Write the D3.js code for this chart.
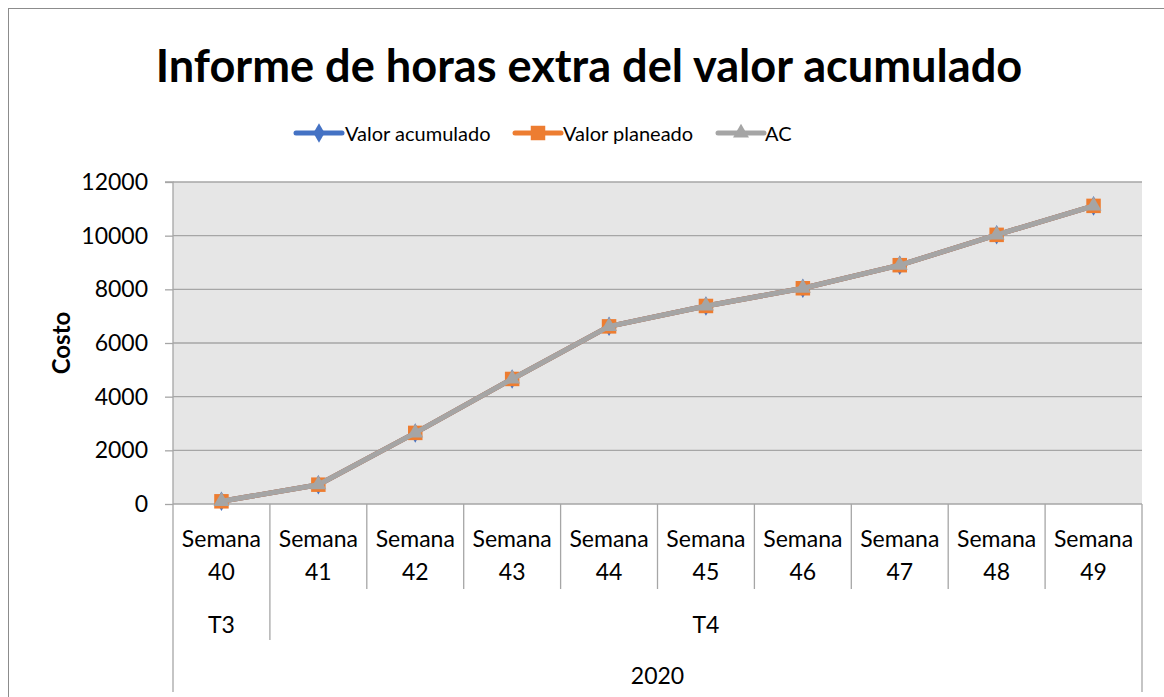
<!DOCTYPE html>
<html>
<head>
<meta charset="utf-8">
<script src="https://cdn.jsdelivr.net/npm/d3@7"></script>
<style>
  body { margin: 0; background: #fff; }
  svg { font-family: Lato, "Open Sans", sans-serif; }
  .grid-line { stroke: #a6a6a6; stroke-width: 1.3; }
</style>
</head>
<body>
<script>
const weeks = ["Semana 40", "Semana 41", "Semana 42", "Semana 43", "Semana 44",
               "Semana 45", "Semana 46", "Semana 47", "Semana 48", "Semana 49"];
const quarters = [
  { name: "T3", from: "Semana 40", to: "Semana 40" },
  { name: "T4", from: "Semana 41", to: "Semana 49" }
];
const years = [{ name: "2020", from: "Semana 40", to: "Semana 49" }];

const valorAcumulado = [100, 720, 2650, 4660, 6620, 7380, 8040, 8900, 10030, 11110];
const valorPlaneado  = [100, 720, 2650, 4660, 6620, 7380, 8040, 8900, 10030, 11110];
const ac             = [100, 720, 2650, 4660, 6620, 7380, 8040, 8900, 10030, 11110];

const yTicks = [0, 2000, 4000, 6000, 8000, 10000, 12000];

const series = [
  { name: "Valor acumulado", values: valorAcumulado, color: "#4472c4", symbol: d3.symbolDiamond, size: 110 },
  { name: "Valor planeado", values: valorPlaneado, color: "#ed7d31", symbol: d3.symbolSquare, size: 210 },
  { name: "AC", values: ac, color: "#a5a5a5", symbol: d3.symbolTriangle, size: 110 }
];

const width = 1164, height = 697;
const margin = { top: 182, right: 22, bottom: 193, left: 173 };
const tickFont = 23;

const svg = d3.select("body").append("svg").attr("width", width).attr("height", height);

// outer chart border
svg.append("rect")
  .attr("x", 8.5).attr("y", 8.5)
  .attr("width", width + 20).attr("height", height + 20)
  .attr("fill", "none").attr("stroke", "#8c8c8c").attr("stroke-width", 1);

// title
const title = svg.append("text")
  .attr("x", 589).attr("y", 82)
  .attr("text-anchor", "middle")
  .attr("font-weight", "bold")
  .attr("font-size", 40)
  .attr("fill", "#000")
  .text("Informe de horas extra del valor acumulado");
const tw = title.node().getComputedTextLength();
title.attr("font-size", 40 * 867 / tw);

const x = d3.scaleBand().domain(weeks).range([margin.left, width - margin.right]).padding(0);
const y = d3.scaleLinear().domain([0, 12000]).range([height - margin.bottom, margin.top]);

// plot background
svg.append("rect")
  .attr("x", margin.left).attr("y", margin.top)
  .attr("width", x.range()[1] - margin.left)
  .attr("height", y(0) - margin.top)
  .attr("fill", "#e6e6e6");

// gridlines
svg.append("g")
  .selectAll("line")
  .data(yTicks.filter(d => d > 0))
  .join("line")
  .attr("class", "grid-line")
  .attr("x1", margin.left).attr("x2", x.range()[1])
  .attr("y1", d => y(d)).attr("y2", d => y(d));

// y axis
const yAxis = d3.axisLeft(y).tickValues(yTicks).tickSize(8).tickPadding(17).tickFormat(d3.format("d"));
svg.append("g")
  .attr("transform", `translate(${margin.left},0)`)
  .call(yAxis)
  .call(g => g.select(".domain").attr("stroke", "#a6a6a6").attr("stroke-width", 1.3).attr("d", `M-8,${y(12000)}H0V${y(0)}`))
  .call(g => g.selectAll(".tick line").attr("stroke", "#a6a6a6").attr("stroke-width", 1.3))
  .call(g => g.selectAll(".tick text").attr("font-size", tickFont).attr("fill", "#000").attr("font-family", "Lato, sans-serif"));

svg.append("text")
  .attr("transform", `translate(70,${(y(0) + y(12000)) / 2}) rotate(-90)`)
  .attr("text-anchor", "middle")
  .attr("font-weight", "bold")
  .attr("font-size", 24)
  .text("Costo");

// x axis, multi-level
const axisY = y(0);
const xr = x.range()[1];
const catG = svg.append("g").attr("stroke", "#a6a6a6").attr("stroke-width", 1.3);
catG.append("line").attr("x1", margin.left).attr("x2", xr).attr("y1", axisY).attr("y2", axisY);

// week level separators
weeks.forEach((w, i) => {
  if (i === 0) return;
  catG.append("line").attr("x1", x(w)).attr("x2", x(w)).attr("y1", axisY).attr("y2", axisY + 85);
});
// quarter separators
quarters.forEach((q, i) => {
  if (i === 0) return;
  catG.append("line").attr("x1", x(q.from)).attr("x2", x(q.from)).attr("y1", axisY + 85).attr("y2", axisY + 136);
});
// outer edges
[margin.left, xr].forEach(px => {
  catG.append("line").attr("x1", px).attr("x2", px).attr("y1", axisY).attr("y2", axisY + 188);
});

const labelG = svg.append("g").attr("font-size", tickFont).attr("fill", "#000").attr("text-anchor", "middle");
weeks.forEach(w => {
  const parts = w.split(" ");
  const cx = x(w) + x.bandwidth() / 2;
  labelG.append("text").attr("x", cx).attr("y", axisY + 43).text(parts[0]);
  labelG.append("text").attr("x", cx).attr("y", axisY + 76).text(parts[1]);
});
quarters.forEach(q => {
  const cx = (x(q.from) + x(q.to) + x.bandwidth()) / 2;
  labelG.append("text").attr("x", cx).attr("y", axisY + 129).text(q.name);
});
years.forEach(yr => {
  const cx = (x(yr.from) + x(yr.to) + x.bandwidth()) / 2;
  labelG.append("text").attr("x", cx).attr("y", axisY + 180).text(yr.name);
});

// lines
const line = d3.line()
  .x((d, i) => x(weeks[i]) + x.bandwidth() / 2)
  .y(d => y(d));

series.forEach(s => {
  svg.append("path")
    .datum(s.values)
    .attr("fill", "none")
    .attr("stroke", s.color)
    .attr("stroke-width", 5)
    .attr("stroke-linejoin", "round")
    .attr("stroke-linecap", "round")
    .attr("d", line);
  svg.append("g")
    .selectAll("path")
    .data(s.values)
    .join("path")
    .attr("transform", (d, i) => `translate(${x(weeks[i]) + x.bandwidth() / 2},${y(d)})`)
    .attr("d", d3.symbol(s.symbol, s.size))
    .attr("fill", s.color);
});

// legend
const legendItems = [
  { s: series[0], x: 296, tx: 345 },
  { s: series[1], x: 515, tx: 563 },
  { s: series[2], x: 718, tx: 765 }
];
const lg = svg.append("g");
legendItems.forEach(it => {
  lg.append("line")
    .attr("x1", it.x).attr("x2", it.x + 46)
    .attr("y1", 133).attr("y2", 133)
    .attr("stroke", it.s.color).attr("stroke-width", 5).attr("stroke-linecap", "round");
  lg.append("path")
    .attr("transform", `translate(${it.x + 23},133)`)
    .attr("d", d3.symbol(it.s.symbol, it.s.size))
    .attr("fill", it.s.color);
  lg.append("text")
    .attr("x", it.tx).attr("y", 141)
    .attr("font-size", 20)
    .text(it.s.name);
});
</script>
</body>
</html>
